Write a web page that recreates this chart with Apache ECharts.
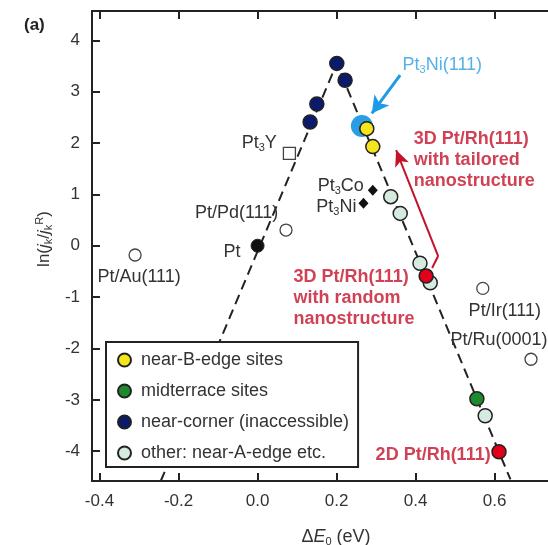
<!DOCTYPE html>
<html>
<head>
<meta charset="utf-8">
<script src="https://cdn.jsdelivr.net/npm/echarts@6/dist/echarts.min.js"></script>
<style>
  html, body { margin: 0; padding: 0; background: #fff; }
  #chart { width: 548px; height: 545px; }
</style>
</head>
<body>
<div id="chart"></div>
<script>
// tick values
const xTicks = [-0.4, -0.2, 0, 0.2, 0.4, 0.6];
const yTicks = [-4, -3, -2, -1, 0, 1, 2, 3, 4];

// site groups (dE0, ln(jk/jkR))
const nearBEdge = [[0.2765, 2.28], [0.2916, 1.93]];
const midterrace = [[0.555, -2.98]];
const nearCorner = [[0.2005, 3.55], [0.2215, 3.22], [0.15, 2.76], [0.133, 2.41]];
const otherSites = [[0.337, 0.955], [0.361, 0.63], [0.411, -0.34], [0.437, -0.72], [0.576, -3.31]];
const ptRh = [[0.4266, -0.59], [0.611, -4.01]];
const pt3NiHalo = [[0.264, 2.33]];

// reference surfaces
const openNames = ["Pt/Au(111)", "Pt/Pd(111)", "Pt/Ir(111)", "Pt/Ru(0001)"];
const openValues = [[-0.31, -0.18], [0.072, 0.305], [0.57, -0.83], [0.692, -2.21]];
const alloyNames = ["Pt{s|3}Co", "Pt{s|3}Ni"];
const alloyValues = [[0.2916, 1.08], [0.268, 0.825]];
const pt3YValue = [[0.0806, 1.8]];
const ptValue = [[0, 0]];

// volcano guide and arrows
const volcanoLine = [[-0.245, -4.58], [0.2005, 3.55], [0.64, -4.55]];
const blueArrow = [[0.3608, 3.32], [0.2891, 2.576]];
const redArrow = [[0.4418, -0.432], [0.457, -0.2], [0.3506, 1.862]];

// annotation anchors (left / middle of text)
const noteTexts = [
  "Pt{s|3}Ni(111)",
  "{r|3D Pt/Rh(111)}\n{r|with tailored}\n{r|nanostructure}",
  "{r|3D Pt/Rh(111)}\n{r|with random}\n{r|nanostructure}",
  "{r|2D Pt/Rh(111)}"
];
const noteAt = [[0.3658, 3.514], [0.3937, 1.667], [0.0899, -1.017], [0.2975, -4.072]];

const FONT = "Liberation Sans, Arial, sans-serif";
const ink = "#222";
const darkRed = "#c4122a";
const subRich = {
  s: { fontSize: 11, lineHeight: 10, verticalAlign: "bottom", fontFamily: FONT, color: "#333" },
  r: { fontSize: 18, fontWeight: "bold", color: darkRed, lineHeight: 21, fontFamily: FONT }
};

const chart = echarts.init(document.getElementById("chart"));

const dotStyle = (color) => ({ color: color, borderColor: ink, borderWidth: 1.5, opacity: 1 });

function labelled(names, values, layout) {
  return values.map((v, i) => ({
    value: v,
    label: Object.assign({ show: true, formatter: names[i] }, layout[i])
  }));
}

const openLayout = [
  { position: "bottom", distance: 5, offset: [4, 0] },
  { position: "left", distance: 1, offset: [0, -17] },
  { position: "bottom", distance: 6, offset: [22, 0] },
  { position: "top", distance: 3, offset: [-32, 0] }
];
const alloyLayout = [
  { position: "left", distance: 4, offset: [0, -4] },
  { position: "left", distance: 2, offset: [0, 4] }
];

const labelBase = {
  fontSize: 18,
  color: "#333",
  fontFamily: FONT,
  lineHeight: 20,
  rich: subRich
};

chart.setOption({
  animation: false,
  textStyle: { fontFamily: FONT },
  title: {
    text: "(a)",
    left: 19,
    top: 12,
    textStyle: { fontSize: 17, fontWeight: "bold", color: ink, fontFamily: FONT }
  },
  grid: { left: 92, right: 0, top: 11, bottom: 64, outerBoundsMode: "none", containLabel: false },
  legend: {
    data: ["near-B-edge sites", "midterrace sites", "near-corner (inaccessible)", "other: near-A-edge etc."],
    orient: "vertical",
    left: 106,
    top: 342,
    selectedMode: false,
    backgroundColor: "#fff",
    borderColor: ink,
    borderWidth: 2,
    borderRadius: 0,
    padding: [9, 9, 5, 11],
    itemWidth: 13,
    itemHeight: 13,
    itemGap: 13,
    icon: "circle",
    itemStyle: { opacity: 1 },
    textStyle: { fontSize: 18, color: "#333", lineHeight: 16, padding: [0, 0, 0, 5], fontFamily: FONT }
  },
  xAxis: [
    {
      type: "value",
      min: -0.419,
      max: 0.735,
      position: "bottom",
      name: "Δ{i|E}{s|0} (eV)",
      nameLocation: "middle",
      nameGap: 46,
      nameTextStyle: {
        fontSize: 18, color: "#333", fontFamily: FONT, lineHeight: 20,
        padding: [0, 0, 0, 32],
        rich: {
          i: { fontSize: 18, fontStyle: "italic", color: "#333", fontFamily: FONT, lineHeight: 20 },
          s: { fontSize: 11, lineHeight: 10, verticalAlign: "bottom", color: "#333", fontFamily: FONT }
        }
      },
      axisLine: { onZero: false, lineStyle: { color: ink, width: 2 } },
      axisTick: { inside: true, length: 8, customValues: xTicks, lineStyle: { color: ink, width: 2 } },
      axisLabel: {
        customValues: xTicks,
        formatter: (v) => v.toFixed(1),
        fontSize: 17, color: "#333", margin: 12, fontFamily: FONT
      },
      splitLine: { show: false }
    },
    {
      type: "value",
      min: -0.419,
      max: 0.735,
      position: "top",
      axisLine: { onZero: false, lineStyle: { color: ink, width: 2 } },
      axisTick: { inside: true, length: 8, customValues: xTicks, lineStyle: { color: ink, width: 2 } },
      axisLabel: { show: false },
      splitLine: { show: false }
    }
  ],
  yAxis: {
    type: "value",
    min: -4.58,
    max: 4.57,
    name: "ln({i|j}{s|k}/{i|j}{s|k}{p|R})",
    nameLocation: "middle",
    nameGap: 38,
    nameRotate: 90,
    nameTextStyle: {
      fontSize: 17, color: "#333", fontFamily: FONT, lineHeight: 20,
      padding: [0, 0, 0, 14],
      rich: {
        i: { fontSize: 17, fontStyle: "italic", color: "#333", fontFamily: FONT, lineHeight: 20 },
        s: { fontSize: 11, lineHeight: 10, verticalAlign: "bottom", color: "#333", fontFamily: FONT },
        p: { fontSize: 11, lineHeight: 10, verticalAlign: "top", color: "#333", fontFamily: FONT }
      }
    },
    axisLine: { onZero: false, lineStyle: { color: ink, width: 2 } },
    axisTick: { inside: true, length: 8, customValues: yTicks, lineStyle: { color: ink, width: 2 } },
    axisLabel: {
      customValues: yTicks,
      formatter: (v) => String(v),
      fontSize: 17, color: "#333", margin: 12, fontFamily: FONT
    },
    splitLine: { show: false }
  },
  series: [
    {
      name: "volcano",
      type: "line",
      data: volcanoLine,
      symbol: "none",
      silent: true,
      z: 1,
      lineStyle: { color: ink, width: 2, type: [10, 6] }
    },
    {
      name: "arrows",
      type: "line",
      data: [],
      silent: true,
      markLine: {
        silent: true,
        symbol: ["none", "arrow"],
        label: { show: false },
        emphasis: { disabled: true },
        data: [
          [
            { coord: blueArrow[0], symbol: "none", lineStyle: { color: "#1e9be6", width: 3, type: "solid" } },
            { coord: blueArrow[1], symbol: "arrow", symbolSize: [14, 17] }
          ],
          [
            { coord: redArrow[0], symbol: "none", lineStyle: { color: darkRed, width: 2, type: "solid" } },
            { coord: redArrow[1], symbol: "none" }
          ],
          [
            { coord: redArrow[1], symbol: "none", lineStyle: { color: darkRed, width: 2, type: "solid" } },
            { coord: redArrow[2], symbol: "arrow", symbolSize: [11, 16] }
          ]
        ]
      }
    },
    {
      name: "Pt3Ni halo",
      type: "scatter",
      data: pt3NiHalo,
      symbolSize: 22,
      z: 2,
      itemStyle: { color: "#2a9de3", opacity: 1 }
    },
    {
      name: "near-B-edge sites",
      type: "scatter",
      data: nearBEdge,
      symbolSize: 14,
      z: 3,
      itemStyle: dotStyle("#f5e51c")
    },
    {
      name: "midterrace sites",
      type: "scatter",
      data: midterrace,
      symbolSize: 14,
      z: 3,
      itemStyle: dotStyle("#1d8b2d")
    },
    {
      name: "near-corner (inaccessible)",
      type: "scatter",
      data: nearCorner,
      symbolSize: 14,
      z: 3,
      itemStyle: dotStyle("#0b1a6a")
    },
    {
      name: "other: near-A-edge etc.",
      type: "scatter",
      data: otherSites,
      symbolSize: 14,
      z: 3,
      itemStyle: dotStyle("#d5ebdf")
    },
    {
      name: "Pt/Rh(111)",
      type: "scatter",
      data: ptRh,
      symbolSize: 14,
      z: 4,
      itemStyle: dotStyle("#e0001a")
    },
    {
      name: "open",
      type: "scatter",
      data: labelled(openNames, openValues, openLayout),
      symbolSize: 12,
      z: 3,
      itemStyle: { color: "#fff", borderColor: "#444", borderWidth: 1.3, opacity: 1 },
      label: labelBase
    },
    {
      name: "alloys",
      type: "scatter",
      data: labelled(alloyNames, alloyValues, alloyLayout),
      symbol: "diamond",
      symbolSize: [10, 11],
      z: 3,
      itemStyle: { color: "#111", opacity: 1 },
      label: labelBase
    },
    {
      name: "Pt3Y",
      type: "scatter",
      data: labelled(["Pt{s|3}Y"], pt3YValue, [{ position: "left", distance: 6, offset: [0, -10] }]),
      symbol: "rect",
      symbolSize: 12,
      z: 3,
      itemStyle: { color: "#fff", borderColor: "#444", borderWidth: 1.3, opacity: 1 },
      label: labelBase
    },
    {
      name: "Pt",
      type: "scatter",
      data: labelled(["Pt"], ptValue, [{ position: "left", distance: 10, offset: [0, 6] }]),
      symbolSize: 13,
      z: 3,
      itemStyle: { color: "#111", borderColor: ink, borderWidth: 1, opacity: 1 },
      label: labelBase
    },
    {
      name: "notes",
      type: "scatter",
      data: noteAt.map((v, i) => ({
        value: v,
        label: {
          show: true,
          formatter: noteTexts[i],
          color: i === 0 ? "#2a9de3" : darkRed
        }
      })),
      symbolSize: 1,
      z: 5,
      silent: true,
      itemStyle: { color: "transparent" },
      label: {
        position: "right",
        distance: 0,
        fontSize: 18,
        fontFamily: FONT,
        lineHeight: 20,
        rich: {
          s: { fontSize: 11, lineHeight: 10, verticalAlign: "bottom", color: "#2a9de3", fontFamily: FONT },
          r: subRich.r
        }
      }
    }
  ]
});
</script>
</body>
</html>
